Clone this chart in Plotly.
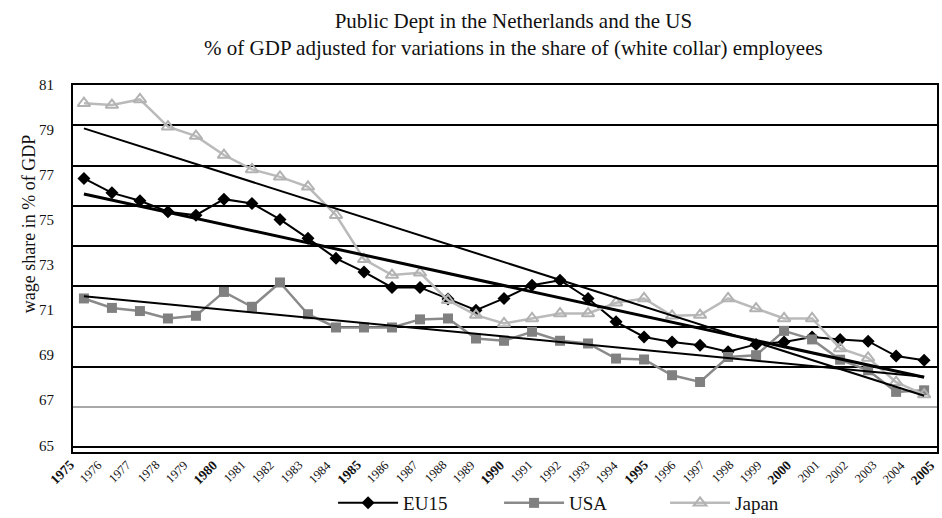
import numpy as np
import plotly.graph_objects as go

years = list(range(1975, 2006))

eu15 = [76.85, 76.21, 75.86, 75.37, 75.22, 75.93, 75.74, 75.03, 74.19, 73.30,
        72.70, 72.01, 72.01, 71.50, 71.00, 71.52, 72.11, 72.33, 71.52, 70.48,
        69.81, 69.59, 69.44, 69.15, 69.48, 69.59, 69.81, 69.70, 69.62, 68.96,
        68.78]

usa = [71.52, 71.10, 70.96, 70.63, 70.75, 71.81, 71.15, 72.23, 70.82, 70.23,
       70.23, 70.23, 70.59, 70.63, 69.74, 69.64, 70.04, 69.64, 69.52, 68.85,
       68.81, 68.11, 67.81, 68.92, 69.00, 70.08, 69.70, 68.80, 68.33, 67.37,
       67.44]

japan = [80.19, 80.11, 80.36, 79.15, 78.73, 77.89, 77.25, 76.92, 76.48, 75.22,
         73.26, 72.56, 72.66, 71.44, 70.78, 70.41, 70.63, 70.85, 70.85, 71.33,
         71.52, 70.75, 70.78, 71.52, 71.07, 70.63, 70.63, 69.30, 68.88, 67.80,
         67.25]

y_ticks = [65, 67, 69, 71, 73, 75, 77, 79, 81]
x_labels = [f"<b>{y}</b>" if y % 5 == 0 else str(y) for y in years]

SERIF = "Liberation Serif, Times New Roman, serif"
INK = "#111111"

fig = go.Figure()

# invisible traces so the grid axis (y) and the label axis (x2) get drawn
fig.add_trace(go.Scatter(x=[None], y=[None], yaxis="y", showlegend=False,
                         hoverinfo="skip"))
fig.add_trace(go.Scatter(x=[None], y=[None], xaxis="x2", yaxis="y",
                         showlegend=False, hoverinfo="skip"))

def trend(vals):
    c = np.polyfit(years, vals, 1)
    return [c[0] * y + c[1] for y in years]

series = [
    ("EU15", eu15, dict(color="#000000", width=2),
     dict(symbol="diamond", size=10, color="#000000"), 3.0),
    ("USA", usa, dict(color="#8a8a8a", width=2.5),
     dict(symbol="square", size=10, color="#808080"), 2.0),
    ("Japan", japan, dict(color="#bababa", width=2.5),
     dict(symbol="triangle-up-open", size=11, color="#b2b2b2",
          line=dict(width=2, color="#b2b2b2")), 2.0),
]

for name, vals, line, marker, tw in series:
    fig.add_trace(go.Scatter(x=years, y=vals, name=name, mode="lines+markers",
                             line=line, marker=marker, yaxis="y2"))

for name, vals, line, marker, tw in series:
    fig.add_trace(go.Scatter(x=years, y=trend(vals), mode="lines",
                             line=dict(color="#000000", width=tw),
                             showlegend=False, hoverinfo="skip", yaxis="y2"))

# rotated year labels under the axis
for yr, lab in zip(years, x_labels):
    fig.add_annotation(text=lab, textangle=-45, xref="x2", yref="paper",
                       x=yr, y=0, xshift=-12, yshift=-3,
                       xanchor="center", yanchor="top", showarrow=False,
                       font=dict(family=SERIF, size=13.5 if yr % 5 == 0 else 12.5,
                                 color=INK))

fig.add_annotation(text="wage share in % of GDP", textangle=-90,
                   xref="paper", yref="paper", x=-0.05, y=0.62,
                   xanchor="center", yanchor="middle", showarrow=False,
                   font=dict(family=SERIF, size=18, color=INK))

fig.update_layout(
    width=942, height=518,
    margin=dict(l=73, r=5, t=85, b=66, autoexpand=False),
    paper_bgcolor="white", plot_bgcolor="white",
    font=dict(family=SERIF, color=INK),
    title=dict(
        text="Public Dept in the Netherlands and the US<br>% of GDP adjusted for variations in the share of (white collar) employees",
        x=0.545, xanchor="center", y=0.946, yanchor="top",
        font=dict(family=SERIF, size=21, color=INK)),
    xaxis=dict(range=[1974.61, 2005.46], showticklabels=False,
               showgrid=False, zeroline=False, showline=True, mirror=True,
               linecolor="#000000", linewidth=2, ticks=""),
    xaxis2=dict(range=[1974.965, 2005.07], overlaying="x", visible=False),
    yaxis=dict(range=[-2.236, 16], dtick=2, tick0=0, showticklabels=False,
               showgrid=True, gridcolor="#000000", gridwidth=2,
               zeroline=True, zerolinecolor="#a8a8a8", zerolinewidth=2,
               showline=True, mirror=True, linecolor="#000000", linewidth=2,
               ticks=""),
    yaxis2=dict(range=[64.7, 81], tickvals=y_ticks, overlaying="y", side="left",
                showgrid=False, zeroline=False, showline=False, ticks="",
                ticklabelstandoff=18,
                tickfont=dict(family=SERIF, size=15, color=INK)),
    legend=dict(orientation="h", x=0.301, xanchor="left", y=-0.139,
                yanchor="middle", font=dict(family=SERIF, size=19, color=INK),
                entrywidth=91, entrywidthmode="pixels", itemwidth=60,
                bgcolor="rgba(0,0,0,0)"),
    showlegend=True,
)

fig.write_html("out.html", config={"displayModeBar": False},
               post_script="document.body.style.margin='0px';")
